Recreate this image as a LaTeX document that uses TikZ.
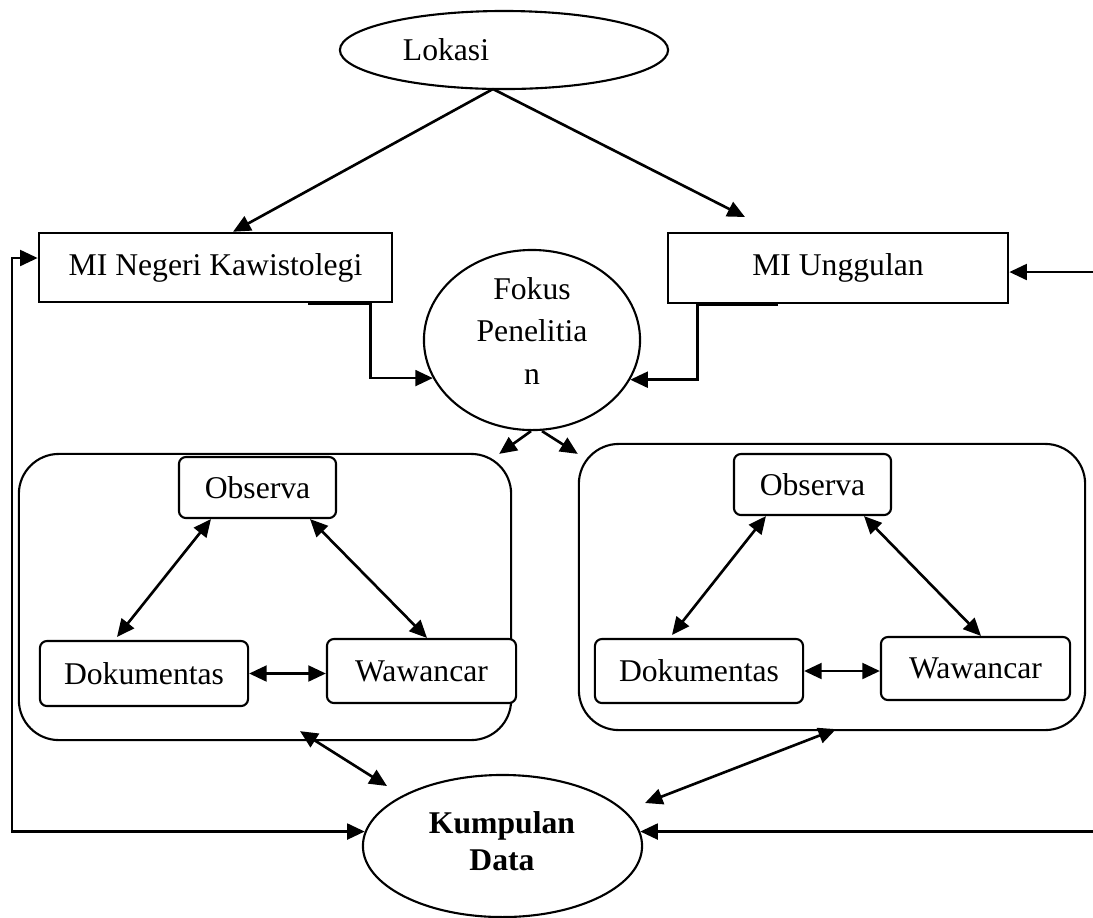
\documentclass[tikz,border=0pt]{standalone}
\usepackage{fontspec}
\setmainfont{Liberation Serif}
\usetikzlibrary{arrows.meta,shapes.geometric,positioning}

\tikzset{
  teks/.style={font=\fontsize{9pt}{12pt}\selectfont},
  oval/.style={draw,ellipse,line width=0.6pt,inner sep=0pt},
  kotak/.style={draw,rectangle,line width=0.7pt,inner sep=0pt},
  kotakbulat/.style={draw,rectangle,rounded corners=2pt,fill=white,line width=0.6pt,inner sep=0pt},
  wadah/.style={draw,rectangle,rounded corners=0.4cm,line width=0.6pt,inner sep=0pt},
  panah/.style={-{Triangle[length=5pt,width=4.5pt]},line width=0.75pt},
  duapanah/.style={{Triangle[length=5pt,width=4.5pt]}-{Triangle[length=5pt,width=4.5pt]},line width=0.75pt}
}

\begin{document}
\begin{tikzpicture}[x=0.01cm,y=-0.01cm,teks]
	\useasboundingbox (0,0) rectangle (1093,917);
	% atas
	\node[oval,minimum width=3.28cm,minimum height=0.78cm] (lokasi) at (504,50) {};
	\node (lokasitxt) at (446,50) {Lokasi};
	\coordinate (pecah) at (493,89);
	\coordinate (ujung) at (745,217);
	\node[kotak,minimum width=3.53cm,minimum height=0.69cm] (mineg) at (215.5,267.5) {MI Negeri Kawistolegi};
	\node[kotak,minimum width=3.40cm,minimum height=0.70cm] (miung) at (838,268) {MI Unggulan};
	\node[oval,minimum width=2.16cm,minimum height=1.80cm] (fokus) at (532,340) {};
	\node[align=center] (fokustxt) at (532,331) {Fokus\\Penelitia\\n};
	\draw[panah] (pecah) -- ([xshift=0.175cm]mineg.north);
	\draw[panah] (pecah) -- (ujung);
	\draw[panah] ([xshift=0.92cm]mineg.south) -- ([xshift=-0.23cm]mineg.south east) |- (fokus.201);
	\draw[panah] ([xshift=-0.6cm]miung.south) -- ([xshift=0.31cm]miung.south west) |- (fokus.338);
	% dua wadah
	\node[wadah,minimum width=4.92cm,minimum height=2.86cm] (wadahL) at (265,597) {};
	\node[wadah,minimum width=5.06cm,minimum height=2.86cm] (wadahR) at (832,587) {};
	\node[kotakbulat,minimum width=1.57cm,minimum height=0.61cm] (obsL) at (257.5,487.5) {Observa};
	\node[kotakbulat,minimum width=2.08cm,minimum height=0.65cm] (dokL) at (144,673.5) {Dokumentas};
	\node[kotakbulat,minimum width=1.89cm,minimum height=0.64cm] (wawL) at (421.5,671) {Wawancar};
	\node[kotakbulat,minimum width=1.57cm,minimum height=0.61cm] (obsR) at (812.5,484.5) {Observa};
	\node[kotakbulat,minimum width=2.08cm,minimum height=0.64cm] (dokR) at (699,671) {Dokumentas};
	\node[kotakbulat,minimum width=1.89cm,minimum height=0.63cm] (wawR) at (975.5,668.5) {Wawancar};
	\draw[duapanah] ([xshift=-0.465cm]obsL.south) -- ([xshift=-0.27cm,yshift=0.03cm]dokL.north);
	\draw[duapanah] ([xshift=0.525cm]obsL.south) -- ([xshift=0.055cm]wawL.north);
	\draw[duapanah] (dokL.east) -- (dokL.east -| wawL.west);
	\draw[duapanah] ([xshift=-0.465cm]obsR.south) -- ([xshift=-0.27cm,yshift=0.03cm]dokR.north);
	\draw[duapanah] ([xshift=0.515cm]obsR.south) -- ([xshift=0.055cm]wawR.north);
	\draw[duapanah] (dokR.east) -- (dokR.east -| wawR.west);
	\draw[panah] ([xshift=-0.01cm]fokus.south) -- ([xshift=-0.13cm,yshift=-0.01cm]wadahL.north east);
	\draw[panah] ([xshift=0.1cm]fokus.south) -- ([yshift=-0.11cm]wadahR.north west);
	% bawah
	\node[oval,minimum width=2.79cm,minimum height=1.42cm] (kumpulan) at (502.5,846) {};
	\node[align=center,font=\bfseries\fontsize{9pt}{10.5pt}\selectfont] (kumpulantxt) at (502,841) {Kumpulan\\Data};
	\coordinate (kdL) at (387,786);
	\coordinate (kdR) at (645,803);
	\coordinate (kiri) at (12,0);
	\coordinate (kanan) at (1093,0);
	\coordinate (masukU) at ([yshift=-0.04cm]miung.east);
	\draw[duapanah] ([xshift=0.35cm,yshift=0.1cm]wadahL.south) -- (kdL);
	\draw[duapanah] ([xshift=0.04cm,yshift=0.02cm]wadahR.south) -- (kdR);
	\draw[duapanah] (kumpulan.174) -- (kumpulan.174 -| kiri) |- ([yshift=0.095cm]mineg.west);
	\draw[panah] (masukU -| kanan) -- (masukU);
	\draw[panah] (kumpulan.6 -| kanan) -- (kumpulan.6);
\end{tikzpicture}
\end{document}
